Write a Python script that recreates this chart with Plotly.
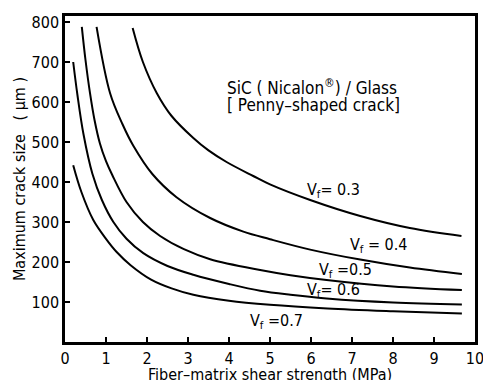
import plotly.graph_objects as go

# Fiber-matrix shear strength (MPa) and maximum crack size (um) for each Vf curve
tau_03 = [1.65, 1.9, 2.24, 2.6, 3.13, 3.5, 3.94, 4.59, 5.0, 5.98, 7.2, 8.41, 9.67]
a_03 = [785, 700, 622, 565, 510, 479, 450, 415, 394, 355, 315, 285, 265]

tau_04 = [0.77, 1.1, 1.4, 1.67, 2.13, 2.72, 3.54, 4.35, 5.0, 5.98, 7.2, 8.41, 9.68]
a_04 = [788, 622, 545, 490, 420, 362, 310, 276, 257, 231, 206, 186, 170]

tau_05 = [0.41, 0.5, 0.61, 0.72, 0.85, 1.0, 1.15, 1.5, 1.9, 2.32, 2.9, 3.54, 4.76, 5.5, 6.38, 8.0, 9.68]
a_05 = [788, 705, 622, 555, 497, 452, 418, 350, 300, 265, 232, 207, 180, 167, 155, 139, 130]

tau_06 = [0.2, 0.3, 0.45, 0.67, 0.9, 1.18, 1.5, 1.91, 2.5, 3.13, 4.0, 4.76, 5.5, 6.38, 8.0, 9.68]
a_06 = [700, 620, 520, 420, 355, 300, 258, 222, 190, 168, 145, 128, 118, 109, 99, 94]

tau_07 = [0.2, 0.4, 0.69, 1.0, 1.26, 1.6, 2.1, 2.6, 3.13, 4.0, 5.0, 6.4, 8.0, 9.68]
a_07 = [442, 375, 305, 258, 225, 192, 156, 134, 118, 103, 93, 84, 77, 71]

curve_labels = ["V<sub>f</sub>= 0.3", "V<sub>f</sub> = 0.4", "V<sub>f</sub> =0.5",
                "V<sub>f</sub>= 0.6", "V<sub>f</sub> =0.7"]
label_x = [6.54, 7.64, 6.85, 6.54, 5.15]
label_y = [380, 242, 180, 130, 52]

x_ticks = list(range(0, 11))
y_ticks = [100, 200, 300, 400, 500, 600, 700, 800]

FONT = "DejaVu Sans Condensed, Liberation Sans Narrow, sans-serif"
FS = 16

fig = go.Figure()
for xs, ys in [(tau_03, a_03), (tau_04, a_04), (tau_05, a_05), (tau_06, a_06), (tau_07, a_07)]:
    fig.add_trace(go.Scatter(x=xs, y=ys, mode="lines",
                             line=dict(color="black", width=2, shape="spline", smoothing=1.0),
                             showlegend=False, hoverinfo="skip"))

for t, x, y in zip(curve_labels, label_x, label_y):
    fig.add_annotation(x=x, y=y, text=t, showarrow=False,
                       font=dict(family=FONT, size=FS, color="black"))

fig.add_annotation(x=3.9, y=637, xanchor="left", yanchor="middle",
                   text="SiC ( Nicalon<sup>®</sup>) / Glass", showarrow=False,
                   font=dict(family=FONT, size=FS + 1, color="black"))
fig.add_annotation(x=3.9, y=593, xanchor="left", yanchor="middle",
                   text="[ Penny–shaped crack]", showarrow=False,
                   font=dict(family=FONT, size=FS + 1, color="black"))

# x-axis title placed just below the tick labels (clipped at the bottom edge as in the reference)
fig.add_annotation(x=0.5, y=0, xref="paper", yref="paper", xanchor="center", yanchor="middle",
                   yshift=-32, text="Fiber–matrix shear strength (MPa)", showarrow=False,
                   font=dict(family=FONT, size=FS, color="black"))

fig.update_xaxes(range=[0, 10], tickvals=x_ticks, ticktext=[str(v) for v in x_ticks],
                 ticks="inside", ticklen=5, tickwidth=1.5, tickcolor="black",
                 showline=True, linewidth=2.5, linecolor="black", mirror=True,
                 showgrid=False, zeroline=False, ticklabeloverflow="allow",
                 tickfont=dict(family=FONT, size=FS, color="black"),
                 automargin=False)
fig.update_yaxes(range=[0, 815], tickvals=y_ticks, ticktext=[str(v) for v in y_ticks],
                 ticks="inside", ticklen=5, tickwidth=1.5, tickcolor="black",
                 showline=True, linewidth=2.5, linecolor="black", mirror=True,
                 showgrid=False, zeroline=False,
                 tickfont=dict(family=FONT, size=FS, color="black"),
                 title=dict(text="Maximum crack size   ( μm )",
                            font=dict(family=FONT, size=FS, color="black"), standoff=2),
                 automargin=False)

fig.update_layout(width=483, height=380, margin=dict(l=65, r=8, t=16, b=38),
                  paper_bgcolor="white", plot_bgcolor="white",
                  font=dict(family=FONT, color="black"))

fig.write_html("out.html", config={"displayModeBar": False},
               post_script="document.body.style.margin='0';document.body.style.overflow='hidden';")
